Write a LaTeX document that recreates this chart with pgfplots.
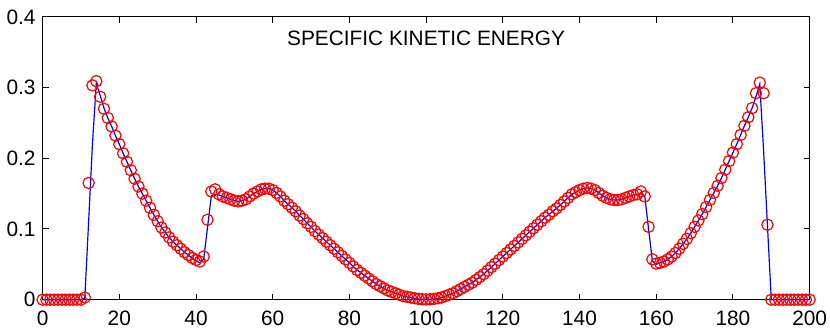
\documentclass[border=0pt]{standalone}
\usepackage{pgfplots}
\usepackage{pgfplotstable}
\pgfplotsset{compat=1.18}
\usepackage{fontspec}
\setmainfont{Liberation Sans}

% x, circle value (y), solid line value (l)
\pgfplotstableread{
x y l
0 0 0
1 0 0
2 0 0
3 0 0
4 0 0
5 0 0
6 0 0
7 0 0
8 0 0
9 0 0
10 0 0
11 0.003 0.002
12 0.165 0.110
13 0.303 0.220
14 0.309 0.306
15 0.287 0.289
16 0.270 0.271
17 0.257 0.257
18 0.245 0.245
19 0.232 0.232
20 0.220 0.220
21 0.207 0.207
22 0.195 0.195
23 0.183 0.183
24 0.171 0.171
25 0.160 0.160
26 0.150 0.150
27 0.140 0.140
28 0.130 0.130
29 0.120 0.120
30 0.111 0.111
31 0.102 0.102
32 0.095 0.095
33 0.088 0.088
34 0.082 0.082
35 0.077 0.077
36 0.072 0.072
37 0.067 0.067
38 0.063 0.063
39 0.059 0.059
40 0.056 0.055
41 0.054 0.052
42 0.061 0.057
43 0.113 0.102
44 0.153 0.147
45 0.156 0.149
46 0.149 0.148
47 0.146 0.146
48 0.144 0.144
49 0.142 0.142
50 0.140 0.140
51 0.139 0.139
52 0.140 0.140
53 0.142 0.142
54 0.146 0.146
55 0.150 0.150
56 0.153 0.153
57 0.156 0.156
58 0.157 0.157
59 0.157 0.157
60 0.155 0.155
61 0.151 0.151
62 0.146 0.146
63 0.140 0.140
64 0.135 0.135
65 0.130 0.130
66 0.125 0.125
67 0.119 0.119
68 0.114 0.114
69 0.108 0.108
70 0.103 0.103
71 0.097 0.097
72 0.092 0.092
73 0.087 0.087
74 0.082 0.082
75 0.077 0.077
76 0.072 0.072
77 0.067 0.067
78 0.062 0.062
79 0.057 0.057
80 0.052 0.052
81 0.047 0.047
82 0.042 0.042
83 0.038 0.038
84 0.034 0.034
85 0.030 0.030
86 0.026 0.026
87 0.022 0.022
88 0.019 0.019
89 0.016 0.016
90 0.013 0.013
91 0.011 0.011
92 0.009 0.009
93 0.007 0.007
94 0.005 0.005
95 0.004 0.004
96 0.003 0.003
97 0.002 0.002
98 0.001 0.001
99 0.0005 0.0005
100 0.0003 0.0003
101 0.0005 0.0005
102 0.001 0.001
103 0.002 0.002
104 0.003 0.003
105 0.005 0.005
106 0.007 0.007
107 0.009 0.009
108 0.012 0.012
109 0.015 0.015
110 0.018 0.018
111 0.021 0.021
112 0.024 0.024
113 0.028 0.028
114 0.032 0.032
115 0.036 0.036
116 0.041 0.041
117 0.046 0.046
118 0.051 0.051
119 0.056 0.056
120 0.061 0.061
121 0.066 0.066
122 0.071 0.071
123 0.076 0.076
124 0.081 0.081
125 0.086 0.086
126 0.091 0.091
127 0.096 0.096
128 0.101 0.101
129 0.106 0.106
130 0.111 0.111
131 0.116 0.116
132 0.120 0.120
133 0.125 0.125
134 0.129 0.129
135 0.134 0.134
136 0.139 0.139
137 0.144 0.144
138 0.149 0.149
139 0.152 0.152
140 0.155 0.155
141 0.157 0.157
142 0.158 0.158
143 0.157 0.157
144 0.155 0.155
145 0.151 0.151
146 0.147 0.147
147 0.144 0.144
148 0.142 0.142
149 0.141 0.141
150 0.141 0.141
151 0.142 0.142
152 0.144 0.144
153 0.146 0.146
154 0.148 0.148
155 0.149 0.149
156 0.153 0.150
157 0.146 0.147
158 0.103 0.100
159 0.057 0.055
160 0.051 0.050
161 0.052 0.052
162 0.054 0.054
163 0.057 0.057
164 0.061 0.061
165 0.066 0.066
166 0.072 0.072
167 0.079 0.079
168 0.086 0.086
169 0.094 0.094
170 0.103 0.103
171 0.112 0.112
172 0.121 0.121
173 0.131 0.131
174 0.141 0.141
175 0.151 0.151
176 0.161 0.161
177 0.172 0.172
178 0.184 0.184
179 0.196 0.196
180 0.208 0.208
181 0.220 0.220
182 0.233 0.233
183 0.246 0.246
184 0.258 0.258
185 0.271 0.271
186 0.292 0.287
187 0.307 0.305
188 0.292 0.210
189 0.106 0.105
190 0 0
191 0 0
192 0 0
193 0 0
194 0 0
195 0 0
196 0 0
197 0 0
198 0 0
199 0 0
200 0 0
}\kedata

\begin{document}
\begin{tikzpicture}
\begin{axis}[
    width=386.5pt, height=142.5pt,
    scale only axis,
    xmin=0, xmax=200,
    ymin=0, ymax=0.4,
    xtick={0,20,...,200},
    ytick={0,0.1,0.2,0.3,0.4},
    tick align=inside,
    major tick length=3pt,
    axis line style={black, line width=0.5pt},
    tick style={black, line width=0.5pt},
    tick label style={font=\fontsize{10.5}{12}\selectfont},
    xticklabel style={inner sep=1.5pt, yshift=-4pt},
    /pgf/number format/assume math mode=true,
    yticklabel style={/pgf/number format/fixed},
    clip=false,
]
\addplot[only marks, mark=o, mark size=2.85pt, red, mark options={line width=0.6pt}]
    table[x=x, y=y] {\kedata};
\addplot[blue, line width=0.6pt, mark=none] table[x=x, y=l] {\kedata};
\node[font=\fontsize{10.5}{12}\selectfont] at (rel axis cs:0.5,0.923) {SPECIFIC KINETIC ENERGY};
\path (rel axis cs:0,1) ++(0,8.5pt);
\end{axis}
\end{tikzpicture}
\end{document}
